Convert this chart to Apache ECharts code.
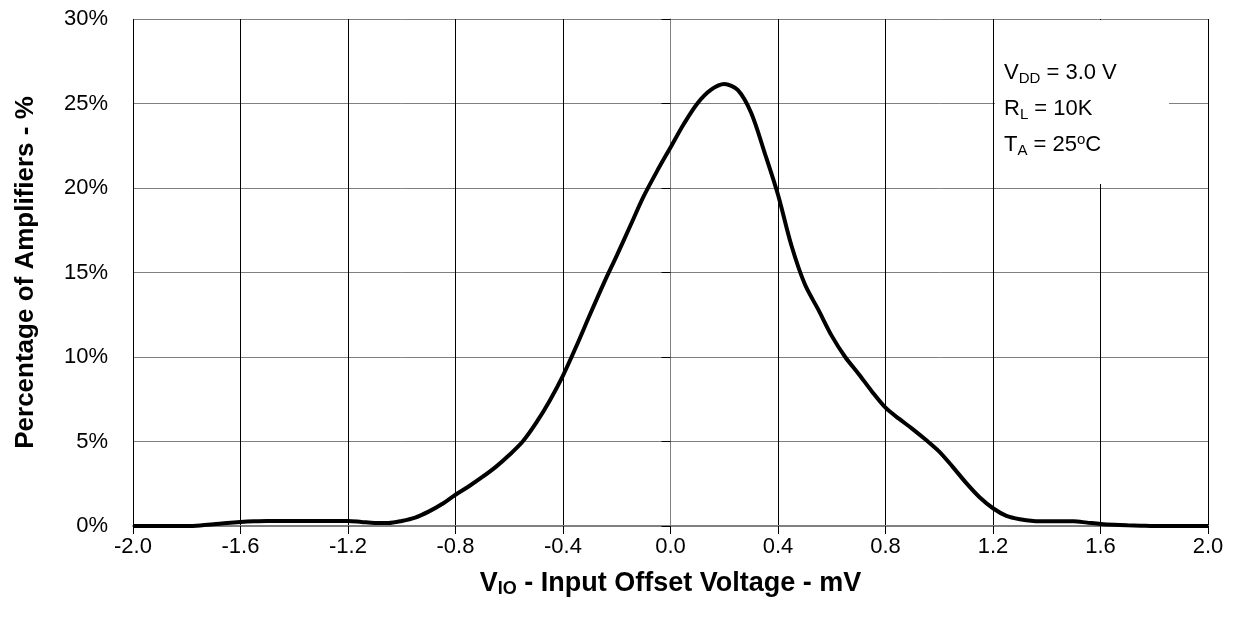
<!DOCTYPE html>
<html>
<head>
<meta charset="utf-8">
<script src="https://cdn.jsdelivr.net/npm/echarts@6/dist/echarts.min.js"></script>
<style>
html,body{margin:0;padding:0;background:#fff;}
#chart{width:1236px;height:619px;}
</style>
</head>
<body>
<div id="chart"></div>
<script>
// Input offset voltage (mV)
var voltages = [-2.00,-1.95,-1.90,-1.85,-1.80,-1.75,-1.70,-1.65,-1.60,-1.55,-1.50,-1.45,-1.40,-1.35,-1.30,-1.25,-1.20,-1.15,-1.10,-1.05,-1.00,-0.95,-0.90,-0.85,-0.80,-0.75,-0.70,-0.65,-0.60,-0.55,-0.50,-0.45,-0.40,-0.35,-0.30,-0.25,-0.20,-0.15,-0.10,-0.05,0.00,0.05,0.10,0.15,0.20,0.25,0.30,0.35,0.40,0.45,0.50,0.55,0.60,0.65,0.70,0.75,0.80,0.85,0.90,0.95,1.00,1.05,1.10,1.15,1.20,1.25,1.30,1.35,1.40,1.45,1.50,1.55,1.60,1.65,1.70,1.75,1.80,1.85,1.90,1.95,2.00];
// Percentage of amplifiers (%)
var percentages = [0,0,0,0,0,0.03,0.10,0.18,0.24,0.28,0.30,0.30,0.30,0.30,0.30,0.30,0.30,0.24,0.18,0.18,0.30,0.50,0.85,1.30,1.85,2.35,2.90,3.50,4.20,5.00,6.10,7.40,8.90,10.65,12.50,14.30,16.00,17.75,19.50,21.00,22.40,23.80,25.00,25.80,26.15,25.80,24.45,22.10,19.60,16.60,14.30,12.80,11.25,10.00,9.00,7.95,7.00,6.35,5.75,5.10,4.40,3.50,2.55,1.70,1.05,0.60,0.40,0.30,0.28,0.28,0.28,0.20,0.12,0.07,0.04,0.02,0,0,0,0,0];
var xTicks = {min: -2.0, max: 2.0, step: 0.4};
var yTicks = {min: 0, max: 30, step: 5};
var conditionLines = [
  ['V', 'DD', ' = 3.0 V'],
  ['R', 'L', ' = 10K'],
  ['T', 'A', ' = 25', 'o', 'C']
];

var seriesData = voltages.map(function (v, i) { return [v, percentages[i]]; });

var FONT = '"Liberation Sans", Arial, sans-serif';

function condText() {
  var out = [];
  conditionLines.forEach(function (l) {
    var s = '{m|' + l[0] + '}{s|' + l[1] + '}{m|' + l[2] + '}';
    if (l.length > 3) s += '{p|' + l[3] + '}{m|' + l[4] + '}';
    out.push(s);
  });
  return out.join('\n');
}

var chart = echarts.init(document.getElementById('chart'), null, {renderer: 'canvas'});
chart.setOption({
  animation: false,
  backgroundColor: '#ffffff',
  grid: {left: 133, right: 28, top: 19, bottom: 93, containLabel: false},
  xAxis: {
    type: 'value',
    min: xTicks.min, max: xTicks.max, interval: xTicks.step,
    axisLine: {show: true, onZero: false, lineStyle: {color: '#808080', width: 2}},
    axisTick: {show: true, inside: false, length: 8, lineStyle: {color: '#000', width: 1}},
    axisLabel: {
      color: '#000', fontSize: 22, fontFamily: FONT, margin: 10,
      formatter: function (v) { return v.toFixed(1); }
    },
    splitLine: {show: true, lineStyle: {color: '#000', width: 1}},
    name: '{b|V}{bs|IO}{b| - Input Offset Voltage - mV}',
    nameLocation: 'middle',
    nameGap: 43,
    nameTextStyle: {
      rich: {
        b: {fontSize: 27, fontWeight: 'bold', fontFamily: FONT, color: '#000'},
        bs: {fontSize: 18, fontWeight: 'bold', fontFamily: FONT, color: '#000', padding: [11, 0, 0, 0]}
      }
    }
  },
  yAxis: {
    type: 'value',
    min: yTicks.min, max: yTicks.max, interval: yTicks.step,
    axisLine: {show: true, lineStyle: {color: '#808080', width: 1}},
    axisTick: {show: true, inside: false, length: 9, lineStyle: {color: '#000', width: 1}},
    axisLabel: {
      color: '#000', fontSize: 22, fontFamily: FONT, margin: 25,
      formatter: '{value}%'
    },
    splitLine: {show: true, lineStyle: {color: '#808080', width: 1}},
    name: 'Percentage of Amplifiers - %',
    nameLocation: 'middle',
    nameGap: 94,
    nameTextStyle: {fontSize: 26, fontWeight: 'bold', fontFamily: FONT, color: '#000'}
  },
  graphic: [
    {
      type: 'rect', z: 10,
      shape: {x: 995, y: 20, width: 174, height: 164},
      style: {fill: '#ffffff', stroke: null}
    },
    {
      type: 'text', z: 11, left: 1004, top: 55,
      style: {
        text: condText(),
        lineHeight: 36,
        rich: {
          m: {fontSize: 22, fontFamily: FONT, fill: '#000', lineHeight: 36},
          s: {fontSize: 15, fontFamily: FONT, fill: '#000', lineHeight: 36, padding: [12, 0, 0, 0]},
          p: {fontSize: 15, fontFamily: FONT, fill: '#000', lineHeight: 36, padding: [0, 0, 10, 0]}
        }
      }
    }
  ],
  series: [{
    type: 'line',
    data: seriesData,
    showSymbol: false,
    smooth: 0.3,
    lineStyle: {color: '#000', width: 4},
    z: 5
  }]
});
</script>
</body>
</html>
